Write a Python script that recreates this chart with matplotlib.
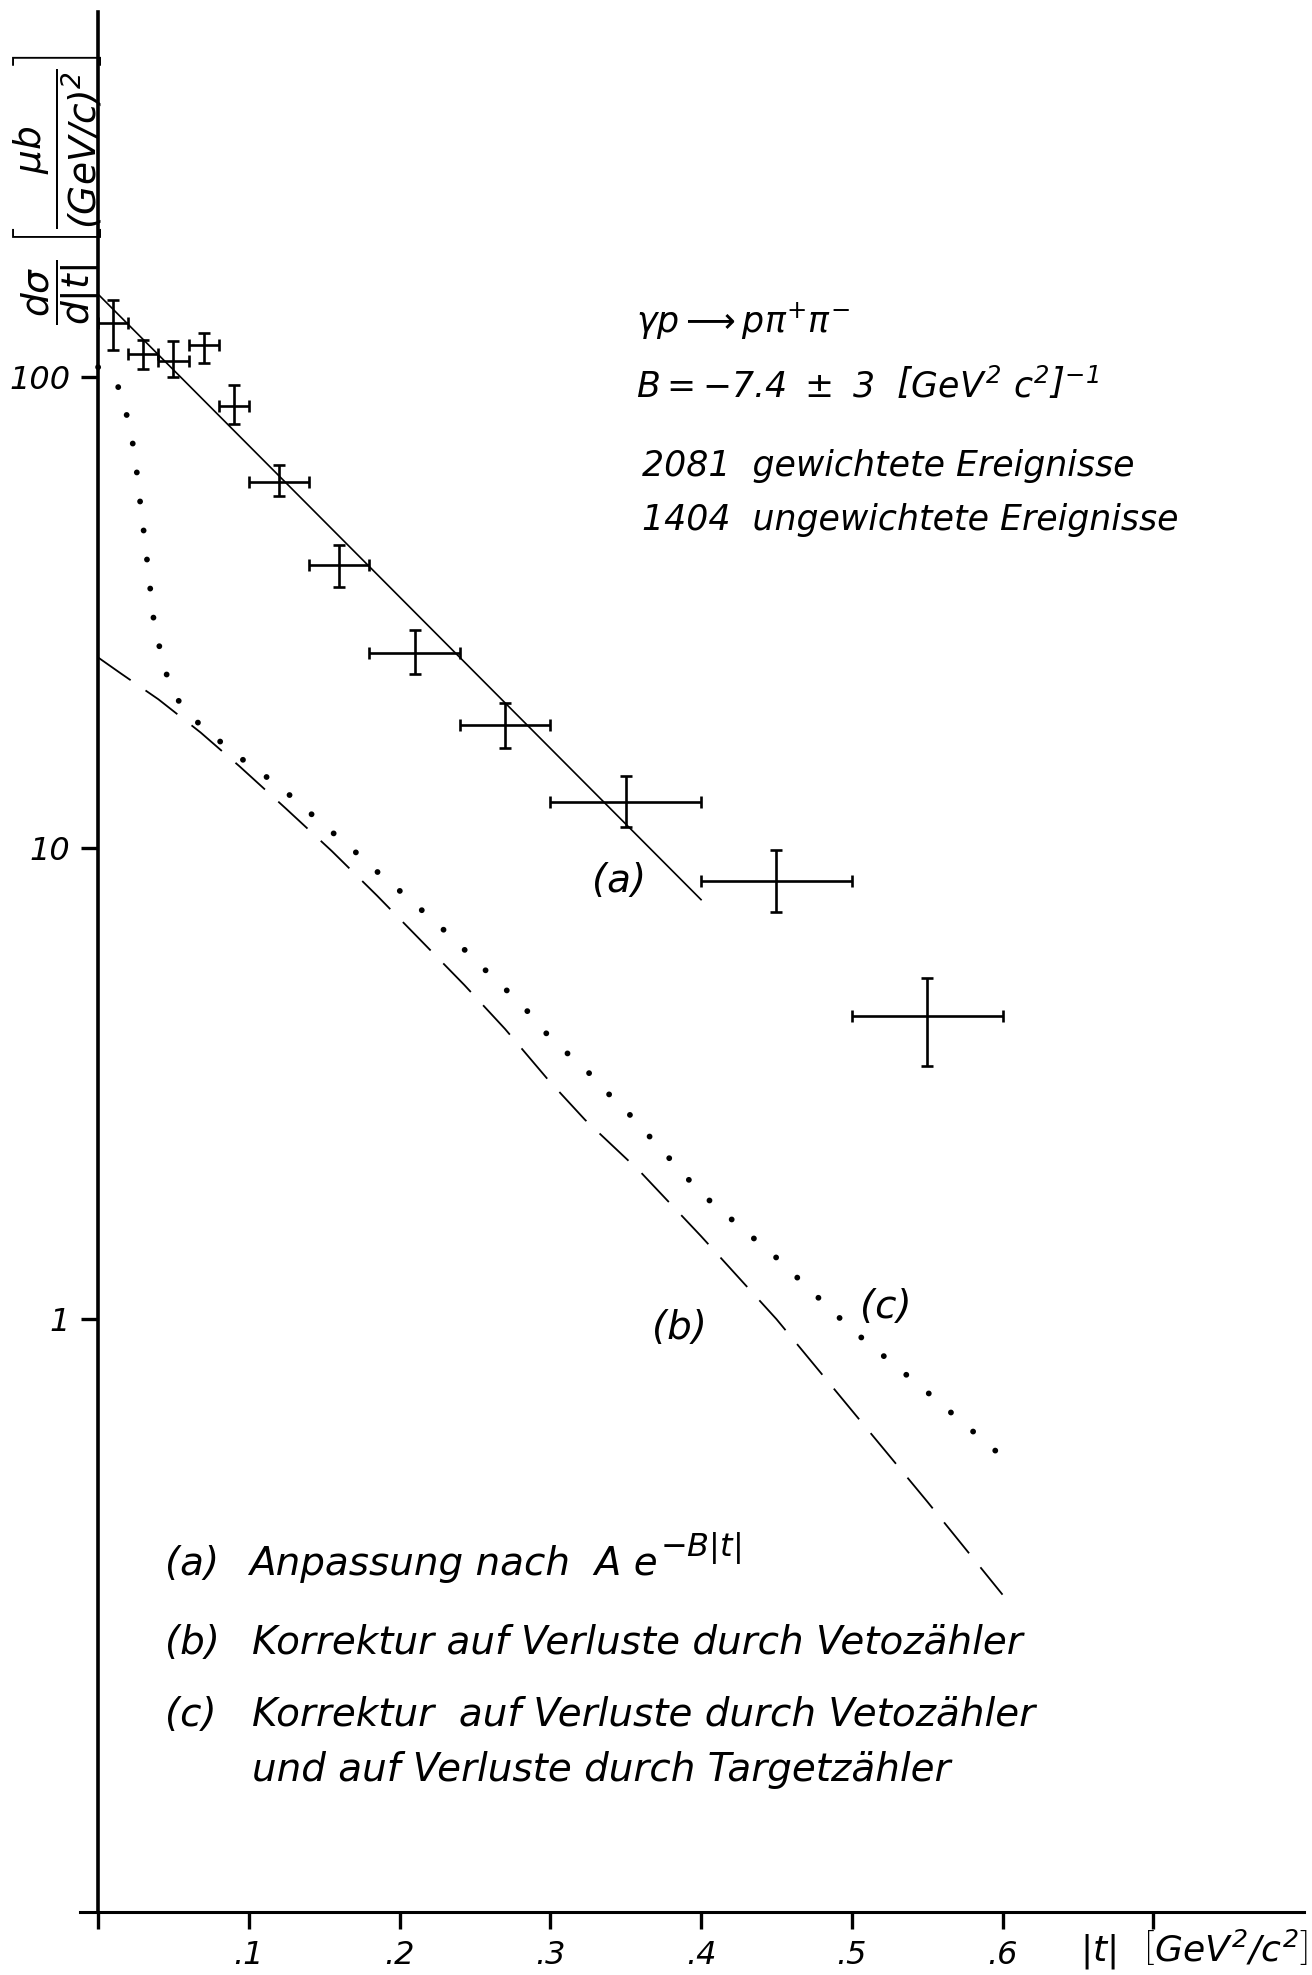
import numpy as np
import matplotlib
matplotlib.use("Agg")
import matplotlib.pyplot as plt

# ---- measured dσ/d|t| for γp → pπ⁺π⁻ -------------------------------------
t_center = [0.01, 0.03, 0.05, 0.07, 0.09, 0.12, 0.16, 0.21, 0.27, 0.35, 0.45, 0.55]
t_halfwidth = [0.01, 0.01, 0.01, 0.01, 0.01, 0.02, 0.02, 0.03, 0.03, 0.05, 0.05, 0.05]
dsig = [130, 112, 108, 117, 87, 60, 40, 26, 18.3, 12.5, 8.5, 4.4]
err_up = [15.6, 8.1, 11.1, 6.9, 9.4, 5.2, 4.1, 3.1, 2.0, 1.7, 1.4, 0.9]
err_dn = [16.0, 7.9, 8.0, 9.9, 7.3, 4.2, 4.1, 2.6, 2.0, 1.4, 1.2, 0.95]

# (a) exponential fit A·exp(-B|t|)
fit_A = 150.0
fit_B = 7.4
t_fit = [0.0, 0.40]

# (b) correction for losses in the veto counter
t_b = [0.0, 0.015, 0.040, 0.068, 0.094, 0.125, 0.155, 0.185, 0.212, 0.243,
       0.270, 0.299, 0.323, 0.36, 0.40, 0.45, 0.50, 0.55, 0.60]
v_b = [25.4, 23.5, 20.7, 17.6, 14.9, 12.1, 9.86, 7.93, 6.47, 5.12,
       4.13, 3.21, 2.65, 2.05, 1.50, 1.00, 0.64, 0.41, 0.26]

# (c) correction for losses in veto and target counters
t_c = [0.0, 0.010, 0.015, 0.019, 0.022, 0.025, 0.026, 0.028, 0.031, 0.034,
       0.037, 0.041, 0.045, 0.050, 0.060, 0.074, 0.090, 0.105, 0.123, 0.139,
       0.154, 0.170, 0.186, 0.203, 0.222, 0.236, 0.252, 0.266, 0.282, 0.295,
       0.312, 0.327, 0.339, 0.353, 0.40, 0.45, 0.50, 0.55, 0.60]
v_c = [105, 100, 93, 83, 75, 67, 61, 54, 45, 37,
       30.3, 26.5, 23.6, 21.3, 19.2, 17.6, 15.9, 14.7, 13.3, 12.0,
       10.9, 9.86, 8.86, 7.97, 7.04, 6.41, 5.70, 5.17, 4.62, 4.11,
       3.65, 3.30, 3.00, 2.71, 1.85, 1.35, 0.95, 0.70, 0.51]

x_ticks = [0.0, 0.1, 0.2, 0.3, 0.4, 0.5, 0.6, 0.7]
x_ticklabels = ["", ".1", ".2", ".3", ".4", ".5", ".6", ""]
y_ticks = [1, 10, 100]
y_ticklabels = ["1", "10", "100"]

# ---- style ---------------------------------------------------------------
plt.rcParams["font.family"] = ["DejaVu Sans"]
plt.rcParams["mathtext.fontset"] = "custom"
plt.rcParams["mathtext.rm"] = "DejaVu Sans:italic"
plt.rcParams["mathtext.it"] = "DejaVu Sans:italic"
plt.rcParams["mathtext.sf"] = "DejaVu Sans:italic"

W, H = 1312, 1975
fig = plt.figure(figsize=(W / 100, H / 100), dpi=100)


def fpos(x, y):
    """pixel position (from top-left) -> figure fraction"""
    return x / W, 1 - y / H


ax_left, ax_right = 80, 1304
ax_top, ax_bottom = 12, 1912
ax = fig.add_axes([ax_left / W, 1 - ax_bottom / H,
                   (ax_right - ax_left) / W, (ax_bottom - ax_top) / H])
ax.set_xlim(-0.012, 0.80)
ax.set_yscale("log")
ax.set_ylim(0.0551, 596)

for s in ("top", "right"):
    ax.spines[s].set_visible(False)
ax.spines["left"].set_position(("data", 0))
ax.spines["left"].set_linewidth(2.6)
ax.spines["bottom"].set_linewidth(2.2)

ax.set_xticks(x_ticks)
ax.set_xticklabels(x_ticklabels)
ax.set_yticks(y_ticks)
ax.set_yticklabels(y_ticklabels)
ax.minorticks_off()
ax.tick_params(axis="both", direction="out", length=12, width=2.4,
               labelsize=23, pad=8)
for lab in ax.get_xticklabels() + ax.get_yticklabels():
    lab.set_style("italic")

# data points with bin widths
ax.errorbar(t_center, dsig, xerr=t_halfwidth, yerr=[err_dn, err_up],
            fmt="none", ecolor="black", elinewidth=1.9, capsize=4,
            capthick=1.9, clip_on=False)

# fit line (a)
t_fit_arr = np.array(t_fit)
ax.plot(t_fit_arr, fit_A * np.exp(-fit_B * t_fit_arr), color="black", lw=1.2)

# corrected curves
ax.plot(t_b, v_b, color="black", lw=1.3, dashes=(22, 10))
ax.plot(t_c, v_c, color="black", lw=4.2, linestyle=(0, (0.01, 5.0)),
        dash_capstyle="round")

# ---- annotations ---------------------------------------------------------
top_kw = dict(fontsize=25, style="italic", va="center", ha="left")
leg_kw = dict(fontsize=28, style="italic", va="center", ha="left")

fig.text(*fpos(636, 321), r"$\gamma p \longrightarrow p\pi^{+}\pi^{-}$", **top_kw)
fig.text(*fpos(636, 386),
         r"$B = -7.4\ \pm\ 3\ \ \left[GeV^{2}\ c^{2}\right]^{-1}$", **top_kw)
fig.text(*fpos(642, 466), "2081  gewichtete Ereignisse", **top_kw)
fig.text(*fpos(642, 520), "1404  ungewichtete Ereignisse", **top_kw)

fig.text(*fpos(592, 881), "(a)", **leg_kw)
fig.text(*fpos(652, 1328), "(b)", **leg_kw)
fig.text(*fpos(860, 1307), "(c)", **leg_kw)

fig.text(*fpos(165, 1564), "(a)", **leg_kw)
fit_txt = fig.text(*fpos(249, 1564), "Anpassung nach  A e", **leg_kw)
# exponent of the fit function, set right after the base
renderer = fig.canvas.get_renderer()
bb = fit_txt.get_window_extent(renderer=renderer)
fig.text(bb.x1 / W + 2 / W, 1 - 1548 / H, r"$-B|t|$", fontsize=23,
         va="center", ha="left")
fig.text(*fpos(165, 1643), "(b)", **leg_kw)
fig.text(*fpos(252, 1643), "Korrektur auf Verluste durch Vetozähler", **leg_kw)
fig.text(*fpos(165, 1715), "(c)", **leg_kw)
fig.text(*fpos(252, 1715), "Korrektur  auf Verluste durch Vetozähler", **leg_kw)
fig.text(*fpos(252, 1770), "und auf Verluste durch Targetzähler", **leg_kw)

# axis titles
fig.text(*fpos(1080, 1950), r"$|t|\ \ \left[GeV^{2}/c^{2}\right]$",
         fontsize=26, va="center", ha="left")
fig.text(*fpos(60, 292), r"$\dfrac{d\sigma}{d|t|}$", rotation=90,
         fontsize=27, ha="center", va="center")
fig.text(*fpos(58, 150), r"$\left[\dfrac{\mu b}{(GeV/c)^{2}}\right]$",
         rotation=90, fontsize=27, ha="center", va="center")

fig.savefig("out.png", dpi=100)
